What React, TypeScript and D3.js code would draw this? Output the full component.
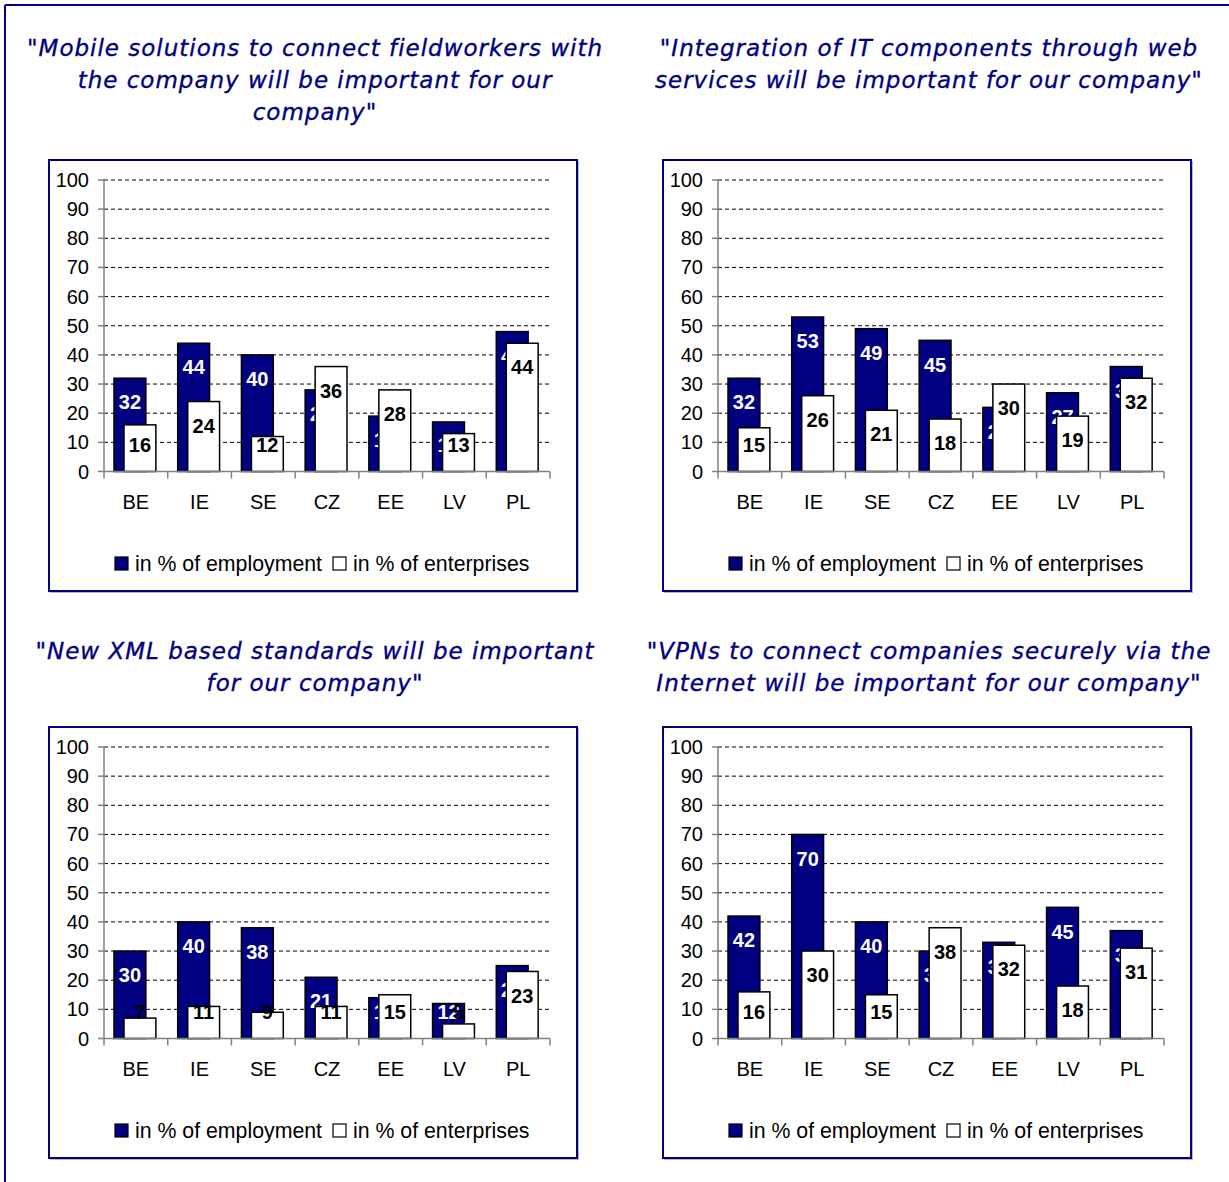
import React from "react";
import * as d3 from "d3";

// Country categories and tick values
const categories = ["BE", "IE", "SE", "CZ", "EE", "LV", "PL"];
const yTicks = [0, 10, 20, 30, 40, 50, 60, 70, 80, 90, 100];

// Survey results, % answering "important"
const mobileEmployment = [32, 44, 40, 28, 19, 17, 48];
const mobileEnterprises = [16, 24, 12, 36, 28, 13, 44];
const webServicesEmployment = [32, 53, 49, 45, 22, 27, 36];
const webServicesEnterprises = [15, 26, 21, 18, 30, 19, 32];
const xmlEmployment = [30, 40, 38, 21, 14, 12, 25];
const xmlEnterprises = [7, 11, 9, 11, 15, 5, 23];
const vpnEmployment = [42, 70, 40, 30, 33, 45, 37];
const vpnEnterprises = [16, 30, 15, 38, 32, 18, 31];

const mobileTitle = [
  "\"Mobile solutions to connect fieldworkers with",
  "the company will be important for our",
  "company\"",
];
const webServicesTitle = [
  "\"Integration of IT components through web",
  "services will be important for our company\"",
];
const xmlTitle = [
  "\"New XML based standards will be important",
  "for our company\"",
];
const vpnTitle = [
  "\"VPNs to connect companies securely via the",
  "Internet will be important for our company\"",
];

const legendLabels = ["in % of employment", "in % of enterprises"];

const NAVY = "#000080";
const AXIS = "#808080";
const W = 1229;
const H = 1182;

const panels = [
  { x: 49, y: 160, titleX: 315, titleY: 48, title: mobileTitle, emp: mobileEmployment, ent: mobileEnterprises },
  { x: 663, y: 160, titleX: 929, titleY: 48, title: webServicesTitle, emp: webServicesEmployment, ent: webServicesEnterprises },
  { x: 49, y: 727, titleX: 315, titleY: 651, title: xmlTitle, emp: xmlEmployment, ent: xmlEnterprises },
  { x: 663, y: 727, titleX: 929, titleY: 651, title: vpnTitle, emp: vpnEmployment, ent: vpnEnterprises },
];

const BOX_W = 528;
const BOX_H = 431;
const PLOT_L = 55;
const PLOT_R = 501;
const PLOT_T = 20;
const PLOT_B = 311.5;

const numFont = "'Liberation Sans', Arial, sans-serif";

function Panel({ p }: { p: (typeof panels)[number] }) {
  const x = d3.scaleBand<string>().domain(categories).range([PLOT_L, PLOT_R]).paddingInner(0).paddingOuter(0);
  const y = d3.scaleLinear().domain([0, 100]).range([PLOT_B, PLOT_T]);
  const bw = x.bandwidth();
  const barW = bw * 0.5;
  const off1 = bw * 0.157;
  const off2 = bw * 0.314;
  const labelY = (v: number) => Math.min(y(v) + 24, y(0) - 27);
  const boundaries = categories.map((c) => x(c) as number).concat([PLOT_R]);

  return (
    <g>
      {p.title.map((line, i) => (
        <text
          key={i}
          x={p.titleX}
          y={p.titleY + i * 32}
          dy="0.35em"
          textAnchor="middle"
          fill={NAVY}
          stroke={NAVY}
          strokeWidth={0.35}
          fontFamily="'DejaVu Sans', Verdana, sans-serif"
          fontStyle="italic"
          fontSize={23}
          letterSpacing={1}
        >
          {line}
        </text>
      ))}
      <g transform={`translate(${p.x},${p.y})`}>
        <rect x={1.5} y={1.5} width={BOX_W} height={BOX_H} fill="none" stroke="#b8b8b8" strokeWidth={1} />
        <rect x={0} y={0} width={BOX_W} height={BOX_H} fill="#fff" stroke={NAVY} strokeWidth={2} />
        {/* gridlines */}
        {yTicks.filter((t) => t > 0).map((t) => (
          <line key={t} x1={PLOT_L} x2={PLOT_R} y1={y(t)} y2={y(t)} stroke="#000" strokeWidth={1} strokeDasharray="4,3" />
        ))}
        {/* y axis */}
        <line x1={PLOT_L} x2={PLOT_L} y1={PLOT_T} y2={PLOT_B} stroke={AXIS} strokeWidth={1.5} />
        {yTicks.map((t) => (
          <g key={t}>
            <line x1={PLOT_L - 6} x2={PLOT_L} y1={y(t)} y2={y(t)} stroke={AXIS} strokeWidth={1.5} />
            <text x={PLOT_L - 15} y={y(t)} dy="0.35em" textAnchor="end" fontFamily={numFont} fontSize={20} fill="#000">
              {t}
            </text>
          </g>
        ))}
        {/* employment bars and labels */}
        {categories.map((c, i) => (
          <rect key={c} x={(x(c) as number) + off1} y={y(p.emp[i])} width={barW} height={y(0) - y(p.emp[i])} fill={NAVY} stroke="#000" strokeWidth={1.5} />
        ))}
        {categories.map((c, i) => (
          <text key={c} x={(x(c) as number) + off1 + barW / 2} y={labelY(p.emp[i])} dy="0.36em" textAnchor="middle" fontFamily={numFont} fontWeight="bold" fontSize={20} fill="#fff">
            {p.emp[i]}
          </text>
        ))}
        {/* enterprise bars and labels */}
        {categories.map((c, i) => (
          <rect key={c} x={(x(c) as number) + off2} y={y(p.ent[i])} width={barW} height={y(0) - y(p.ent[i])} fill="#fff" stroke="#000" strokeWidth={1.5} />
        ))}
        {categories.map((c, i) => (
          <text key={c} x={(x(c) as number) + off2 + barW / 2} y={labelY(p.ent[i])} dy="0.36em" textAnchor="middle" fontFamily={numFont} fontWeight="bold" fontSize={20} fill="#000">
            {p.ent[i]}
          </text>
        ))}
        {/* x axis */}
        <line x1={PLOT_L} x2={PLOT_R} y1={PLOT_B} y2={PLOT_B} stroke={AXIS} strokeWidth={1.5} />
        {boundaries.map((bx, i) => (
          <line key={i} x1={bx} x2={bx} y1={PLOT_B} y2={PLOT_B + 7} stroke={AXIS} strokeWidth={1.5} />
        ))}
        {categories.map((c) => (
          <text key={c} x={(x(c) as number) + bw / 2} y={PLOT_B + 30} dy="0.35em" textAnchor="middle" fontFamily={numFont} fontSize={20} fill="#000">
            {c}
          </text>
        ))}
        {/* legend */}
        <rect x={66} y={397} width={13} height={13} fill={NAVY} stroke="#000" strokeWidth={1.2} />
        <text x={86} y={404} dy="0.35em" fontFamily={numFont} fontSize={21.3} fill="#000">{legendLabels[0]}</text>
        <rect x={284} y={397} width={13} height={13} fill="#fff" stroke="#000" strokeWidth={1.2} />
        <text x={304} y={404} dy="0.35em" fontFamily={numFont} fontSize={21.3} fill="#000">{legendLabels[1]}</text>
      </g>
    </g>
  );
}

export default function App() {
  return (
    <svg
      width={W}
      height={H}
      viewBox={`0 0 ${W} ${H}`}
      style={{ position: "absolute", left: 0, top: 0, display: "block", background: "#fff" }}
    >
      <rect x={0} y={0} width={W} height={H} fill="#fff" />
      <line x1={5} x2={W} y1={5} y2={5} stroke={NAVY} strokeWidth={2} />
      <line x1={5} x2={5} y1={5} y2={H} stroke={NAVY} strokeWidth={2} />
      {panels.map((p, i) => (
        <Panel key={i} p={p} />
      ))}
    </svg>
  );
}
